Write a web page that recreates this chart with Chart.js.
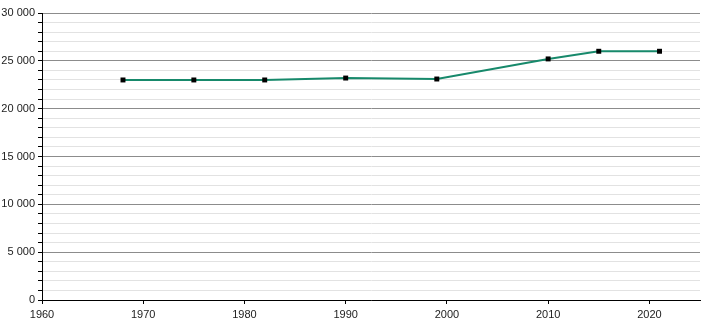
<!DOCTYPE html>
<html>
<head>
<meta charset="utf-8">
<script src="https://cdn.jsdelivr.net/npm/chart.js@4"></script>
<style>
  html, body { margin: 0; padding: 0; background: #fff; }
  #wrap { width: 710px; height: 320px; }
</style>
</head>
<body>
<div id="wrap"><canvas id="popChart"></canvas></div>
<script>
// population data
const years = [1968, 1975, 1982, 1990, 1999, 2010, 2015, 2021];
const population = [23000, 23000, 23000, 23200, 23100, 25200, 26000, 26000];

const xMin = 1960, xMax = 2025, xStep = 10;
const yMin = 0, yMax = 30000, yStep = 1000, yLabelStep = 5000;

function formatThousands(v) {
    return String(v).replace(/\B(?=(\d{3})+(?!\d))/g, ' ');
}

window.initializeChart = function(canvasId) {
    const canvas = document.getElementById(canvasId);
    if (!canvas) {
        console.error(`Canvas element not found: ${canvasId}`);
        return;
    }
    const ctx = canvas.getContext('2d');

    Chart.defaults.font.family = '"Liberation Sans", Arial, sans-serif';
    Chart.defaults.font.size = 11;
    Chart.defaults.color = '#222';

    return new Chart(ctx, {
        type: 'line',
        data: {
            datasets: [{
                data: years.map((y, i) => ({ x: y, y: population[i] })),
                borderColor: '#17896b',
                borderWidth: 2,
                tension: 0,
                pointStyle: 'rect',
                pointRadius: 3.5,
                pointBackgroundColor: '#000',
                pointBorderColor: '#000',
                pointBorderWidth: 0,
                fill: false
            }]
        },
        options: {
            responsive: true,
            maintainAspectRatio: false,
            animation: false,
            layout: { padding: { top: 13, right: 10, left: 0, bottom: 0 } },
            plugins: {
                legend: { display: false },
                tooltip: { enabled: false }
            },
            scales: {
                x: {
                    type: 'linear',
                    min: xMin,
                    max: xMax,
                    afterBuildTicks: (scale) => {
                        const t = [];
                        for (let v = xMin; v <= xMax; v += xStep) t.push({ value: v });
                        scale.ticks = t;
                    },
                    afterFit: (scale) => { scale.height = 20; },
                    ticks: {
                        autoSkip: false,
                        maxRotation: 0,
                        padding: 4,
                        callback: (v) => String(v)
                    },
                    grid: {
                        drawOnChartArea: false,
                        drawTicks: true,
                        tickLength: 4,
                        tickColor: '#000'
                    },
                    border: { color: '#000', width: 1 }
                },
                y: {
                    min: yMin,
                    max: yMax,
                    afterFit: (scale) => { scale.width = 42; },
                    ticks: {
                        stepSize: yStep,
                        autoSkip: false,
                        padding: 3,
                        callback: (v) => (v % yLabelStep === 0 ? formatThousands(v) : '')
                    },
                    grid: {
                        color: (c) => (c.tick && c.tick.value % yLabelStep === 0 ? '#8c8c8c' : '#e2e2e2'),
                        lineWidth: 1,
                        tickLength: 4,
                        tickColor: '#000'
                    },
                    border: { color: '#000', width: 1 }
                }
            }
        }
    });
};

window.initializeChart('popChart');
</script>
</body>
</html>
